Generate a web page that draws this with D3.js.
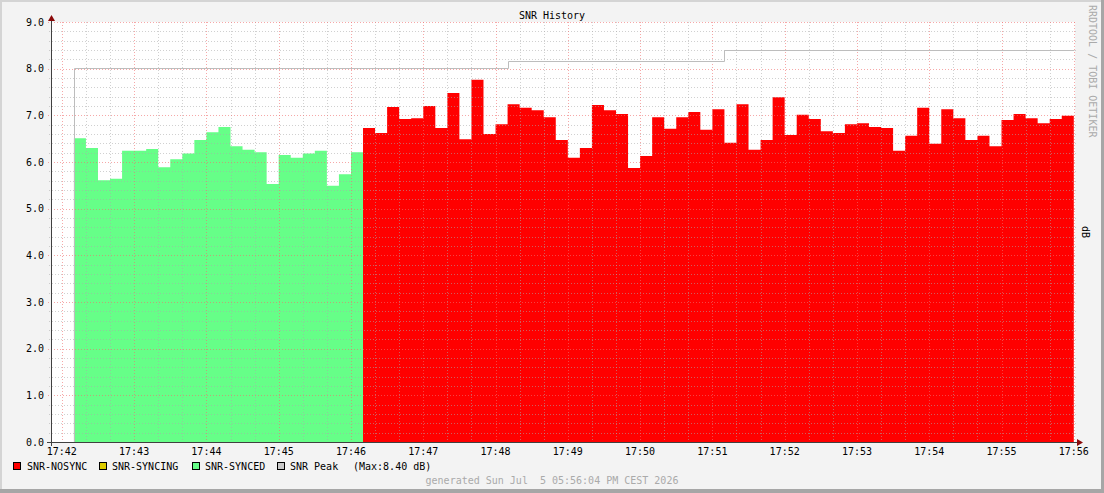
<!DOCTYPE html>
<html>
<head>
<meta charset="utf-8">
<script src="https://cdn.jsdelivr.net/npm/d3@7/dist/d3.min.js"></script>
<style>
  html, body { margin: 0; padding: 0; background: #F3F3F3; }
  svg { display: block; }
  text { font-family: "DejaVu Sans Mono", monospace; font-size: 10px; white-space: pre; }
</style>
</head>
<body>
<svg id="chart" width="1104" height="493"></svg>
<script>
// ---------------- data ----------------
const chartTitle = "SNR History";
const startTime = new Date(2026, 6, 5, 17, 42, 10); // first sample start
const stepSeconds = 10;
// SNR while synced (green), one value per 10 s step
const syncedValues = [6.51, 6.30, 5.61, 5.64, 6.24, 6.24, 6.28, 5.89, 6.06, 6.18, 6.47, 6.64,
  6.75, 6.34, 6.26, 6.21, 5.53, 6.15, 6.09, 6.18, 6.24, 5.49, 5.74, 6.21];
// SNR while not synced (red), following the synced samples
const nosyncValues = [6.73, 6.62, 7.18, 6.92, 6.94, 7.20, 6.73, 7.48, 6.49, 7.76, 6.60, 6.81,
  7.24, 7.16, 7.11, 6.96, 6.47, 6.09, 6.30, 7.22, 7.11, 7.03, 5.87, 6.13, 6.96, 6.71, 6.96,
  7.07, 6.69, 7.13, 6.41, 7.24, 6.26, 6.47, 7.39, 6.58, 7.01, 6.92, 6.66, 6.62, 6.81, 6.83,
  6.75, 6.73, 6.24, 6.56, 7.16, 6.39, 7.13, 6.94, 6.47, 6.56, 6.34, 6.90, 7.03, 6.94, 6.83,
  6.92, 6.99];
// SNR peak: step index where the level starts, and its value
const peakStepIndex = [0, 36, 54];
const peakStepValue = [8.02, 8.16, 8.40];
const yTickValues = [0, 1, 2, 3, 4, 5, 6, 7, 8, 9];
const xTickLabels = ["17:42", "17:43", "17:44", "17:45", "17:46", "17:47", "17:48", "17:49",
  "17:50", "17:51", "17:52", "17:53", "17:54", "17:55", "17:56"];
const legendLabels = ["SNR-NOSYNC", "SNR-SYNCING", "SNR-SYNCED", "SNR Peak"];
const legendColors = ["#FF0000", "#DDCC00", "#66FF88", "#C8C8C8"];
const peakMaxText = "(Max:8.40 dB)";
const footerText = "generated Sun Jul  5 05:56:04 PM CEST 2026";
const sideText = "RRDTOOL / TOBI OETIKER";
const unitLabel = "dB";

// ---------------- layout ----------------
const W = 1104, H = 493;
const plot = { left: 51, right: 1075, top: 22, bottom: 442 };
const svg = d3.select("#chart");

const domStart = new Date(2026, 6, 5, 17, 41, 51);
const domEnd = new Date(2026, 6, 5, 17, 56, 1);
const x = d3.scaleTime().domain([domStart, domEnd]).range([plot.left, plot.right]);
const y = d3.scaleLinear().domain([0, 9]).range([plot.bottom, plot.top]);
const tAt = i => new Date(startTime.getTime() + i * stepSeconds * 1000);

// background + frame
svg.append("rect").attr("x", 0).attr("y", 0).attr("width", W).attr("height", H).attr("fill", "#F3F3F3");
svg.append("rect").attr("x", 0).attr("y", 0).attr("width", W).attr("height", 2).attr("fill", "#D4D4D4");
svg.append("rect").attr("x", 0).attr("y", 0).attr("width", 2).attr("height", H).attr("fill", "#D4D4D4");
svg.append("rect").attr("x", 0).attr("y", H - 4).attr("width", W).attr("height", 4).attr("fill", "#A6A6A6");
svg.append("rect").attr("x", W - 3).attr("y", 0).attr("width", 3).attr("height", H).attr("fill", "#A6A6A6");

// plot canvas
svg.append("rect").attr("x", plot.left).attr("y", plot.top)
  .attr("width", plot.right - plot.left).attr("height", plot.bottom - plot.top).attr("fill", "#FFFFFF");

// areas
function stepPoints(values, offset) {
  const pts = values.map((v, i) => [tAt(offset + i), v]);
  pts.push([tAt(offset + values.length), values[values.length - 1]]);
  return pts;
}
const area = d3.area().curve(d3.curveStepAfter)
  .x(d => x(d[0])).y0(y(0)).y1(d => y(d[1]));
svg.append("path").datum(stepPoints(syncedValues, 0)).attr("d", area).attr("fill", "#66FF88");
svg.append("path").datum(stepPoints(nosyncValues, syncedValues.length)).attr("d", area).attr("fill", "#FF0000");

// grid (drawn over the areas)
const gGrid = svg.append("g");
const minorX = d3.timeSecond.every(20).range(domStart, domEnd).filter(d => d.getSeconds() !== 0);
const majorX = d3.timeMinute.range(domStart, domEnd);
const minorY = d3.range(0, 9.001, 0.2).filter(v => Math.abs(v - Math.round(v)) > 1e-6);
gGrid.selectAll(".mx").data(minorX).join("line")
  .attr("x1", d => Math.round(x(d)) + 0.5).attr("x2", d => Math.round(x(d)) + 0.5)
  .attr("y1", plot.top).attr("y2", plot.bottom + 2)
  .attr("stroke", "rgba(170,170,170,0.55)").attr("stroke-dasharray", "1,2");
gGrid.selectAll(".my").data(minorY).join("line")
  .attr("x1", plot.left - 2).attr("x2", plot.right + 1)
  .attr("y1", d => Math.round(y(d)) + 0.5).attr("y2", d => Math.round(y(d)) + 0.5)
  .attr("stroke", "rgba(170,170,170,0.55)").attr("stroke-dasharray", "1,2");
gGrid.selectAll(".Mx").data(majorX).join("line")
  .attr("x1", d => Math.round(x(d)) + 0.5).attr("x2", d => Math.round(x(d)) + 0.5)
  .attr("y1", plot.top).attr("y2", plot.bottom + 3)
  .attr("stroke", "rgba(240,110,110,0.6)").attr("stroke-dasharray", "1,2");
gGrid.selectAll(".My").data(yTickValues).join("line")
  .attr("x1", plot.left - 3).attr("x2", plot.right + 1)
  .attr("y1", d => Math.round(y(d)) + 0.5).attr("y2", d => Math.round(y(d)) + 0.5)
  .attr("stroke", "rgba(240,110,110,0.6)").attr("stroke-dasharray", "1,2");

// peak line
const peakPts = [[tAt(peakStepIndex[0]), 0]];
peakStepIndex.forEach((idx, k) => peakPts.push([tAt(idx), peakStepValue[k]]));
peakPts.push([tAt(syncedValues.length + nosyncValues.length), peakStepValue[peakStepValue.length - 1]]);
const peakLine = d3.line().curve(d3.curveStepAfter).x(d => Math.round(x(d[0])) + 0.5).y(d => Math.round(y(d[1])) + 0.5);
svg.append("path").datum(peakPts).attr("d", peakLine)
  .attr("fill", "none").attr("stroke", "#BDBDBD").attr("stroke-width", 1);

// axes lines
svg.append("line").attr("x1", plot.left - 4).attr("x2", plot.right + 3)
  .attr("y1", plot.bottom + 0.5).attr("y2", plot.bottom + 0.5).attr("stroke", "#404040");
svg.append("line").attr("x1", plot.left + 0.5).attr("x2", plot.left + 0.5)
  .attr("y1", plot.bottom + 4).attr("y2", plot.top - 4).attr("stroke", "#404040");
svg.append("path").attr("d", `M${plot.left + 0.5},15 L${plot.left - 3},21 L${plot.left + 4},21 Z`).attr("fill", "#8B0A0A");
svg.append("path").attr("d", `M${plot.right + 8},${plot.bottom + 0.5} L${plot.right + 2},${plot.bottom - 3} L${plot.right + 2},${plot.bottom + 4} Z`).attr("fill", "#8B0A0A");

// y tick labels
svg.selectAll(".yl").data(yTickValues).join("text")
  .attr("x", 44).attr("y", d => y(d) + 3.5).attr("text-anchor", "end").attr("fill", "#000")
  .text(d => d3.format(".1f")(d));

// x tick labels
svg.selectAll(".xl").data(majorX.concat([new Date(2026, 6, 5, 17, 56, 0)])).join("text")
  .attr("x", d => x(d)).attr("y", 455).attr("text-anchor", "middle").attr("fill", "#000")
  .text((d, i) => xTickLabels[i]);

// title
svg.append("text").attr("x", 552).attr("y", 19).attr("text-anchor", "middle").attr("fill", "#000").text(chartTitle);

// legend
const legendX = [13, 99, 192, 277];
const legendTextX = [27, 112, 205, 290];
legendLabels.forEach((lab, i) => {
  svg.append("rect").attr("x", legendX[i] + 0.5).attr("y", 462.5).attr("width", 7).attr("height", 7)
    .attr("fill", legendColors[i]).attr("stroke", "#000").attr("stroke-width", 1);
  svg.append("text").attr("x", legendTextX[i]).attr("y", 470).attr("fill", "#000").text(lab);
});
svg.append("text").attr("x", 353).attr("y", 470).attr("fill", "#000").text(peakMaxText);

// footer
svg.append("text").attr("x", 552).attr("y", 484).attr("text-anchor", "middle").attr("fill", "#AAAAAA").text(footerText);

// side texts
svg.append("text").attr("transform", "translate(1089,5) rotate(90)").attr("fill", "#AAAAAA").text(sideText);
svg.append("text").attr("transform", `translate(1082,${(plot.top + plot.bottom) / 2}) rotate(90)`)
  .attr("text-anchor", "middle").attr("fill", "#000").text(unitLabel);
</script>
</body>
</html>
